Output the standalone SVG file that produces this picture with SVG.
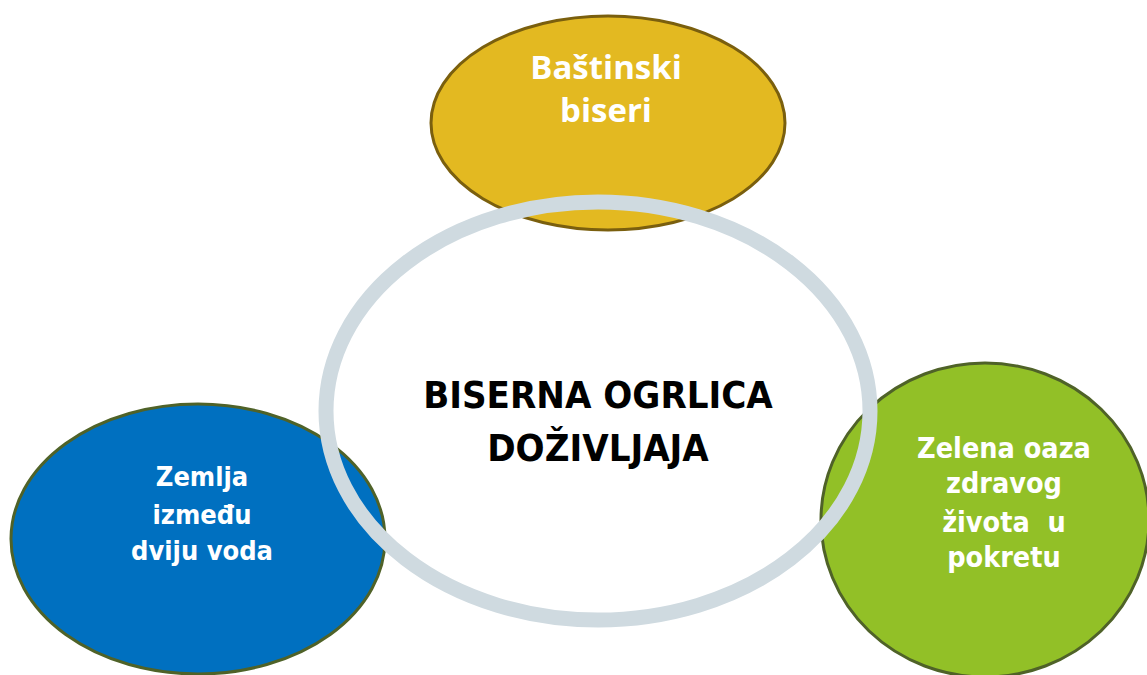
<svg xmlns="http://www.w3.org/2000/svg" width="1147" height="675" viewBox="0 0 1147 675">
  <style>
    .lbl { font-family: "DejaVu Sans Condensed", "DejaVu Sans", Verdana, sans-serif; font-stretch: condensed; font-weight: bold; fill: #ffffff; text-anchor: middle; }
    .lblY { font-family: "Open Sans", "Liberation Sans", sans-serif; font-weight: bold; fill: #ffffff; text-anchor: middle; font-size: 33px; }
    .ctr { font-family: "DejaVu Sans Condensed", "DejaVu Sans", Verdana, sans-serif; font-stretch: condensed; font-weight: bold; fill: #000000; text-anchor: middle; font-size: 38px; }
    .sat { stroke-width: 3; }
  </style>
  <rect width="1147" height="675" fill="#ffffff"/>
  <g id="node-bastinski">
    <ellipse class="sat" cx="608" cy="123" rx="177" ry="107" fill="#e3b921" stroke="#7a5f0e"/>
    <text class="lblY" x="606" y="79">Baštinski</text>
    <text class="lblY" x="606" y="122">biseri</text>
  </g>
  <g id="node-zemlja">
    <ellipse class="sat" cx="198" cy="539" rx="187" ry="135" fill="#0070c0" stroke="#4f6228"/>
    <text class="lbl" x="202" y="486" font-size="27">Zemlja</text>
    <text class="lbl" x="202" y="524" font-size="27">između</text>
    <text class="lbl" x="202" y="560" font-size="27">dviju voda</text>
  </g>
  <g id="node-zelena">
    <ellipse class="sat" cx="985" cy="520" rx="164" ry="157" fill="#92c027" stroke="#4f6228"/>
    <text class="lbl" x="1004" y="458" font-size="28.5">Zelena oaza</text>
    <text class="lbl" x="1004" y="493" font-size="28.5">zdravog</text>
    <text class="lbl" x="1004" y="532" font-size="28.5" xml:space="preserve">života  u</text>
    <text class="lbl" x="1004" y="567" font-size="28.5">pokretu</text>
  </g>
  <g id="node-center">
    <ellipse cx="598" cy="411" rx="272" ry="209" fill="none" stroke="#cfdae0" stroke-width="15"/>
    <text class="ctr" x="598" y="408">BISERNA OGRLICA</text>
    <text class="ctr" x="598" y="461">DOŽIVLJAJA</text>
  </g>
  <g id="connectors"/>
</svg>
